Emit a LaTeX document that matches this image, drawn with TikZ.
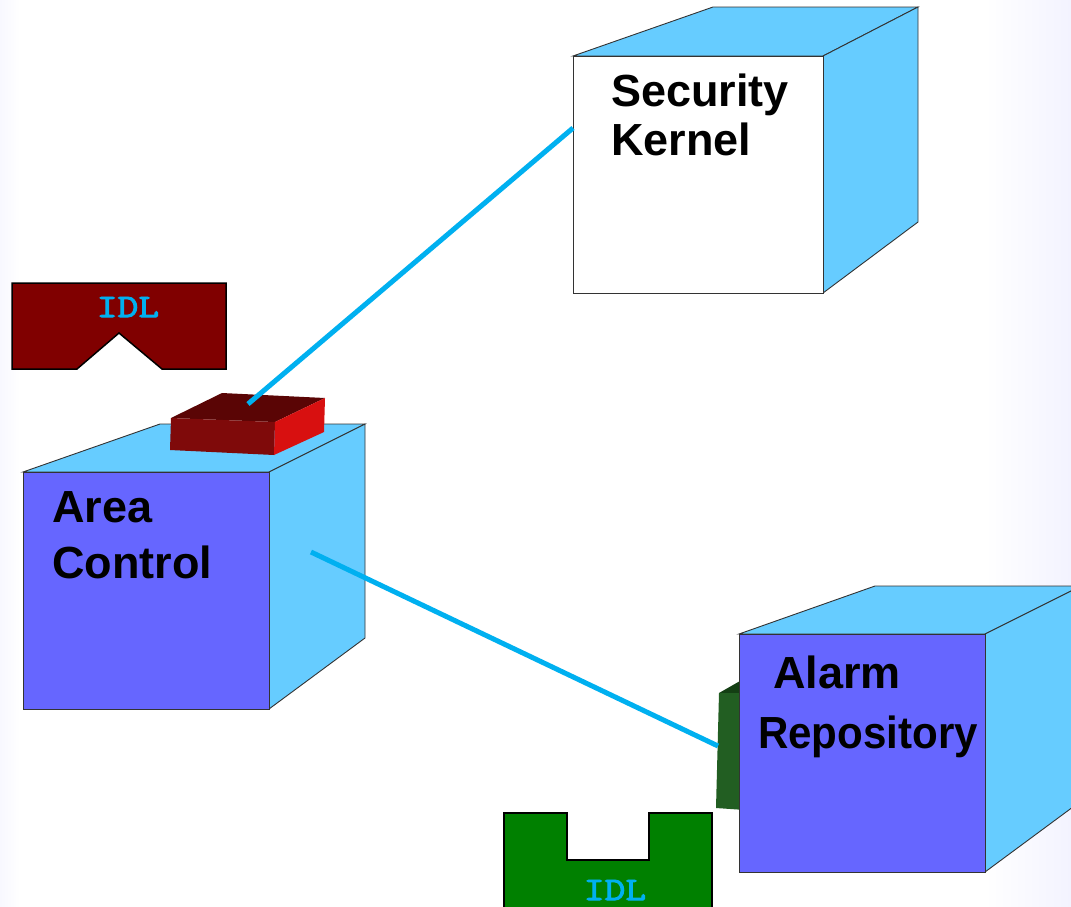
\documentclass[tikz,border=0pt]{standalone}
\usepackage{fontspec}
\setmainfont{Liberation Sans}
\newfontfamily\idlfont{lmmono10-regular.otf}[FakeBold=2.5]
\definecolor{sidecol}{RGB}{102,204,255}
\definecolor{frontcol}{RGB}{102,102,255}
\definecolor{linkcol}{RGB}{0,176,240}
\definecolor{idlred}{RGB}{128,0,0}
\definecolor{idlgreen}{RGB}{0,128,0}
\definecolor{lav}{RGB}{243,243,255}
\definecolor{rtop}{RGB}{90,5,5}
\definecolor{rfront}{RGB}{127,10,10}
\definecolor{rside}{RGB}{216,16,16}
\definecolor{gtop}{RGB}{20,63,20}
\definecolor{gfront}{RGB}{34,94,34}
\tikzset{
  face/.style={draw=black!80, line width=0.9pt, line join=miter},
  link/.style={draw=linkcol, line width=5pt},
  label/.style={font=\fontsize{45}{45}\bfseries\selectfont, anchor=base west, inner sep=0pt},
  idltext/.style={font=\fontsize{33}{33}\idlfont\selectfont, text=linkcol, inner sep=0pt},
  idlshape/.style={draw=black, line width=1.5pt}
}
\begin{document}
\begin{tikzpicture}[x=1pt,y=-1pt]
\useasboundingbox (0,0) rectangle (1071,906);
\fill[white] (0,0) rectangle (1071,906);
\shade[left color=white, right color=lav] (985,0) rectangle (1071,906);
\shade[left color=lav!60, right color=white] (0,0) rectangle (20,906);
\begin{scope}
\clip (0,0) rectangle (1071,906);
% Security Kernel cube
\filldraw[face, fill=sidecol] (573,56) -- (713,7) -- (918,7) -- (823,56) -- cycle;
\filldraw[face, fill=sidecol] (823,56) -- (918,7) -- (918,222) -- (823,293) -- cycle;
\filldraw[face, fill=white] (573,56) rectangle (823,293);
\node[label] (sk1) at (611,106) {Security};
\node[label] (sk2) at (611,155) {Kernel};
% Area Control cube
\filldraw[face, fill=sidecol] (23,472) -- (160,424) -- (365,424) -- (269,472) -- cycle;
\filldraw[face, fill=sidecol] (269,472) -- (365,424) -- (365,638) -- (269,709) -- cycle;
\filldraw[face, fill=frontcol] (23,472) rectangle (269,709);
\node[label] (ac1) at (52,522) {Area};
\node[label] (ac2) at (52,578) {Control};
% red interface box on top of Area Control
\fill[rtop] (171,418) -- (222,393) -- (325,398) -- (275,422) -- cycle;
\fill[rfront] (171,418) -- (275,422) -- (274,455) -- (170,450) -- cycle;
\fill[rside] (275,422) -- (325,398) -- (324,432) -- (274,455) -- cycle;
% green interface box on Alarm Repository
\fill[gtop] (719,693) -- (740,681) -- (745,681) -- (745,693) -- cycle;
\fill[gfront] (719,693) -- (745,693) -- (745,810) -- (716,808) -- cycle;
% Alarm Repository cube
\filldraw[face, fill=sidecol] (739,634) -- (875,586) -- (1081,586) -- (985,634) -- cycle;
\filldraw[face, fill=sidecol] (985,634) -- (1081,586) -- (1081,801) -- (985,872) -- cycle;
\filldraw[face, fill=frontcol] (739,634) rectangle (985,872);
\node[label] (ar1) at (773,688) {Alarm};
\node[label] (ar2) at (758,748) {\scalebox{0.935}[1]{Repository}};
% IDL shapes
\filldraw[idlshape, fill=idlred] (12,283) -- (226,283) -- (226,369) -- (162,369) -- (119,333) -- (77,369) -- (12,369) -- cycle;
\node[idltext] (idl1) at (128,307) {\scalebox{1.2}[1]{IDL}};
\filldraw[idlshape, fill=idlgreen] (504,920) -- (504,813) -- (567,813) -- (567,860) -- (649,860) -- (649,813) -- (712,813) -- (712,920) -- cycle;
\node[idltext] (idl2) at (615,890) {\scalebox{1.2}[1]{IDL}};
% connectors
\coordinate (redtop) at (248,404);
\coordinate (skleft) at (573,128);
\coordinate (acside) at (311,552);
\coordinate (greenleft) at (718,746);
\draw[link] (redtop) -- (skleft);
\draw[link] (acside) -- (greenleft);
\end{scope}
\end{tikzpicture}
\end{document}
